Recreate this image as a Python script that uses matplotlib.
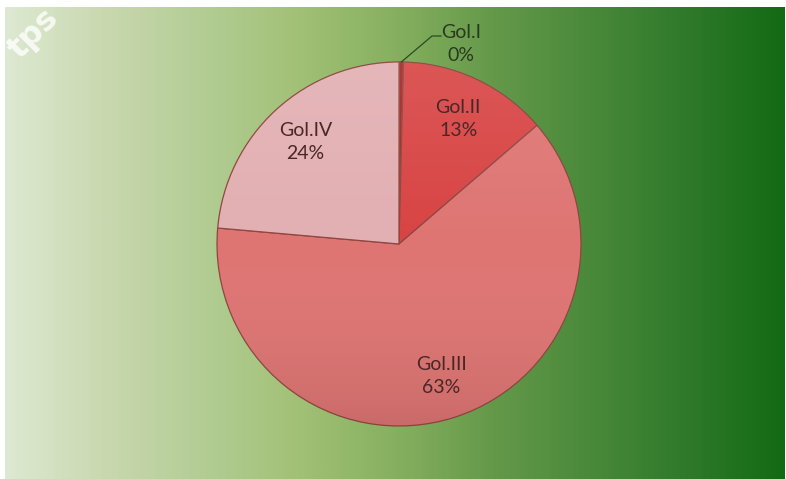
import numpy as np
import matplotlib
matplotlib.use("Agg")
import matplotlib.pyplot as plt
from matplotlib.colors import LinearSegmentedColormap

# ---- data ----
categories = ["Gol.I", "Gol.II", "Gol.III", "Gol.IV"]
values = [0.4, 13.3, 62.7, 23.6]
pct_labels = ["0%", "13%", "63%", "24%"]

# ---- style ----
slice_colors = ["#a82424", "#d84444", "#de7573", "#e2afb2"]
bg_stops = ["#dde9d1", "#cad8b0", "#b3cd95", "#a2c176", "#86b05f",
            "#65994a", "#4a893a", "#2f7a2a", "#136a14"]
W, H = 786, 479
fig = plt.figure(figsize=(W / 100, H / 100), dpi=100)
fig.patch.set_facecolor("white")

# background gradient panel
bg = fig.add_axes([5 / W, 0 / H, (785 - 5) / W, (479 - 7) / H])
bg_cmap = LinearSegmentedColormap.from_list("bg", bg_stops)
bg.imshow(np.linspace(0, 1, 512)[None, :], aspect="auto", cmap=bg_cmap,
          extent=[0, 1, 0, 1])
bg.set_axis_off()

# watermark
fig.text(34 / W, 1 - 34 / H, "tps", fontsize=23, fontweight="bold",
         color="white", alpha=0.8, rotation=45, ha="center", va="center",
         rotation_mode="anchor", family="DejaVu Sans")

# pie axes: centre (399, 244), radius 182 px
cx, cy, r = 399, 244, 182
ax = fig.add_axes([(cx - r) / W, (H - cy - r) / H, 2 * r / W, 2 * r / H])
ax.set_axis_off()
wedges, _ = ax.pie(values, colors=slice_colors, startangle=90, counterclock=False,
                   radius=1.0, wedgeprops=dict(edgecolor="#8e4640", linewidth=0.9))
ax.set_xlim(-1, 1)
ax.set_ylim(-1, 1)
ax.set_aspect("auto")

# shading overlay (light top -> darker bottom), clipped to each wedge
yy = np.linspace(0, 1, 256)[:, None] * np.ones((1, 8))
shade = LinearSegmentedColormap.from_list(
    "sh", [(0, 0, 0, 0.09), (1, 1, 1, 0.0), (1, 1, 1, 0.10)])
for w in wedges:
    im = ax.imshow(yy, extent=[-1, 1, -1, 1], cmap=shade, aspect="auto",
                   origin="lower", zorder=2)
    im.set_clip_path(w)
ax.set_xlim(-1, 1)
ax.set_ylim(-1, 1)

# labels
font = ["Lato", "DejaVu Sans"]
theta = 90.0
total = sum(values)
for i, (cat, v, p) in enumerate(zip(categories, values, pct_labels)):
    mid = theta - 360.0 * v / total / 2
    theta -= 360.0 * v / total
    if i == 0:
        continue
    d = 0.76
    x, y = d * np.cos(np.radians(mid)), d * np.sin(np.radians(mid))
    ax.text(x, y, f"{cat}\n{p}", ha="center", va="center", fontsize=14,
            color="#4a2626", family=font, linespacing=1.45, zorder=5)

# Gol.I outside label with leader line
start = np.radians(90 - 360.0 * values[0] / total / 2)
x0, y0 = np.cos(start), np.sin(start)
x1, y1 = (432 - cx) / r, (cy - 36) / r
x2 = (441 - cx) / r
ax.plot([x0, x1, x2], [y0, y1, y1], color="#2c4a22", lw=0.9,
        clip_on=False, zorder=5)
ax.text((461 - cx) / r, (cy - 44) / r, f"{categories[0]}\n{pct_labels[0]}",
        ha="center", va="center", fontsize=14, color="#2a3a1e", family=font,
        linespacing=1.45, clip_on=False, zorder=5)

fig.savefig("out.png", dpi=100, facecolor="white")
